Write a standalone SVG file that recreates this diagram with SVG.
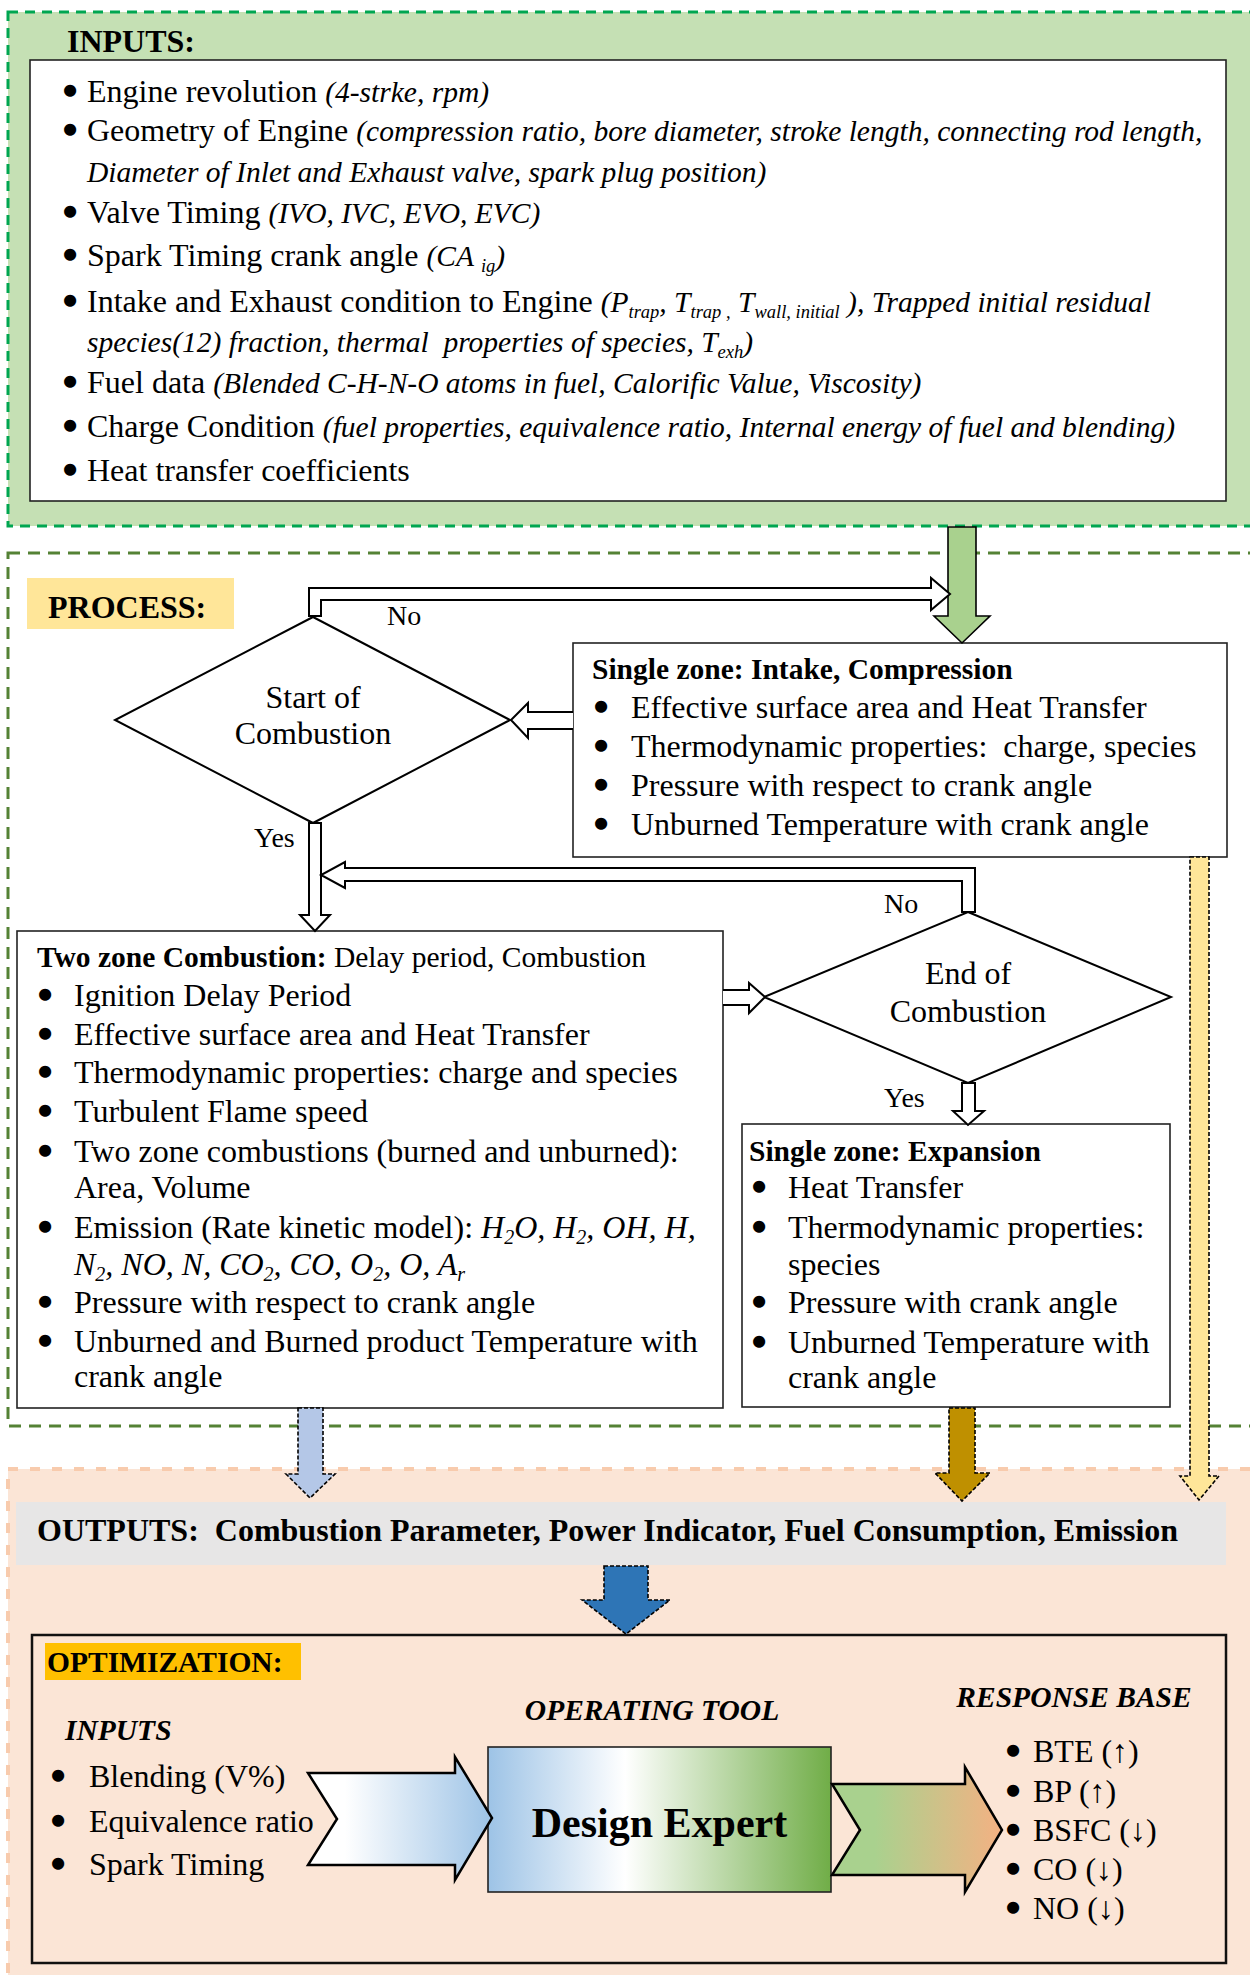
<svg xmlns="http://www.w3.org/2000/svg" width="1250" height="1975" viewBox="0 0 1250 1975">
<style>
text{font-family:"Liberation Serif","Times New Roman",serif;font-size:32px;fill:#000}
.b{font-weight:bold}
.i{font-style:italic}
.ii{font-style:italic;font-size:29.5px}
.h{font-size:29.5px;font-weight:bold}
.lab{font-size:28px}
.sub{font-size:20px}
.sub2{font-size:18.5px}
.bl{text-anchor:middle;stroke:#000;stroke-width:4.5;stroke-linejoin:round}
.box{fill:#fff;stroke:#222;stroke-width:1.6}
.dia{fill:#fff;stroke:#000;stroke-width:2}
.hol{fill:#fff;stroke:#000;stroke-width:2;stroke-linejoin:miter}
.dash{stroke:#000;stroke-width:1.6;stroke-dasharray:4 2}
</style>
<defs>
<linearGradient id="gL" x1="0" y1="0" x2="1" y2="0"><stop offset="0.2" stop-color="#fff"/><stop offset="1" stop-color="#9DC3E6"/></linearGradient>
<linearGradient id="gD" x1="0" y1="0" x2="1" y2="0"><stop offset="0" stop-color="#9DC3E6"/><stop offset="0.4" stop-color="#fff"/><stop offset="1" stop-color="#70AD47"/></linearGradient>
<linearGradient id="gR" x1="0" y1="0" x2="1" y2="0"><stop offset="0.25" stop-color="#A9D18E"/><stop offset="1" stop-color="#F4B183"/></linearGradient>
</defs>

<!-- panels -->
<g id="inputs-panel">
<rect x="8" y="12" width="1250" height="514" fill="#C5E0B4" stroke="#00A651" stroke-width="3" stroke-dasharray="10 7"/>
<text x="67" y="52" class="b">INPUTS:</text>
<rect x="30" y="60" width="1196" height="441" class="box"/>
<text x="70" y="102" class="bl">•</text><text x="87" y="102">Engine revolution <tspan class="ii">(4-strke, rpm)</tspan></text>
<text x="70" y="141" class="bl">•</text><text x="87" y="141">Geometry of Engine <tspan class="ii">(compression ratio, bore diameter, stroke length, connecting rod length,</tspan></text>
<text x="87" y="182" class="ii">Diameter of Inlet and Exhaust valve, spark plug position)</text>
<text x="70" y="223" class="bl">•</text><text x="87" y="223">Valve Timing <tspan class="ii">(IVO, IVC, EVO, EVC)</tspan></text>
<text x="70" y="266" class="bl">•</text><text x="87" y="266">Spark Timing crank angle <tspan class="ii">(CA <tspan class="sub2" dy="6">ig</tspan><tspan dy="-6">)</tspan></tspan></text>
<text x="70" y="312" class="bl">•</text><text x="87" y="312" xml:space="preserve">Intake and Exhaust condition to Engine <tspan class="ii">(P<tspan class="sub2" dy="6">trap</tspan><tspan dy="-6">, T</tspan><tspan class="sub2" dy="6">trap ,</tspan><tspan dy="-6"> T</tspan><tspan class="sub2" dy="6">wall, initial</tspan><tspan dy="-6"> ), Trapped initial residual</tspan></tspan></text>
<text x="87" y="352" class="ii" xml:space="preserve">species(12) fraction, thermal  properties of species, T<tspan class="sub2" dy="6">exh</tspan><tspan dy="-6">)</tspan></text>
<text x="70" y="393" class="bl">•</text><text x="87" y="393">Fuel data <tspan class="ii">(Blended C-H-N-O atoms in fuel, Calorific Value, Viscosity)</tspan></text>
<text x="70" y="437" class="bl">•</text><text x="87" y="437">Charge Condition <tspan class="ii">(fuel properties, equivalence ratio, Internal energy of fuel and blending)</tspan></text>
<text x="70" y="481" class="bl">•</text><text x="87" y="481">Heat transfer coefficients</text>
</g>

<g id="process-panel">
<rect x="8" y="553" width="1250" height="873" fill="none" stroke="#548235" stroke-width="3" stroke-dasharray="12 8"/>
<rect x="27" y="578" width="207" height="51" fill="#FFE699"/>
<text x="48" y="618" class="b">PROCESS:</text>
</g>

<g id="outputs-panel">
<rect x="8" y="1469" width="1250" height="520" fill="#FBE5D6" stroke="#F8CBAD" stroke-width="4" stroke-dasharray="10 12"/>
</g>

<!-- nodes -->
<g id="start-of-combustion">
<polygon points="313,617 510,720 313,823 115,720" class="dia"/>
<text x="313" y="708" text-anchor="middle">Start of</text>
<text x="313" y="744" text-anchor="middle">Combustion</text>
</g>

<g id="single-zone-intake">
<rect x="573" y="643" width="654" height="214" class="box"/>
<text x="592" y="679" class="h">Single zone: Intake, Compression</text>
<text x="601" y="718" class="bl">•</text><text x="631" y="718">Effective surface area and Heat Transfer</text>
<text x="601" y="757" class="bl">•</text><text x="631" y="757" xml:space="preserve">Thermodynamic properties:  charge, species</text>
<text x="601" y="796" class="bl">•</text><text x="631" y="796">Pressure with respect to crank angle</text>
<text x="601" y="835" class="bl">•</text><text x="631" y="835">Unburned Temperature with crank angle</text>
</g>

<g id="two-zone-combustion">
<rect x="17" y="931" width="706" height="477" class="box"/>
<text x="37" y="967" class="h">Two zone Combustion:<tspan font-weight="normal"> Delay period, Combustion</tspan></text>
<text x="45" y="1006" class="bl">•</text><text x="74" y="1006">Ignition Delay Period</text>
<text x="45" y="1045" class="bl">•</text><text x="74" y="1045">Effective surface area and Heat Transfer</text>
<text x="45" y="1083" class="bl">•</text><text x="74" y="1083">Thermodynamic properties: charge and species</text>
<text x="45" y="1122" class="bl">•</text><text x="74" y="1122">Turbulent Flame speed</text>
<text x="45" y="1162" class="bl">•</text><text x="74" y="1162">Two zone combustions (burned and unburned):</text>
<text x="74" y="1198">Area, Volume</text>
<text x="45" y="1238" class="bl">•</text><text x="74" y="1238">Emission (Rate kinetic model): <tspan class="i">H<tspan class="sub" dy="6">2</tspan><tspan dy="-6">O, H</tspan><tspan class="sub" dy="6">2</tspan><tspan dy="-6">, OH, H,</tspan></tspan></text>
<text x="74" y="1275" class="i">N<tspan class="sub" dy="6">2</tspan><tspan dy="-6">, NO, N, CO</tspan><tspan class="sub" dy="6">2</tspan><tspan dy="-6">, CO, O</tspan><tspan class="sub" dy="6">2</tspan><tspan dy="-6">, O, A</tspan><tspan class="sub" dy="6">r</tspan></text>
<text x="45" y="1313" class="bl">•</text><text x="74" y="1313">Pressure with respect to crank angle</text>
<text x="45" y="1352" class="bl">•</text><text x="74" y="1352">Unburned and Burned product Temperature with</text>
<text x="74" y="1387">crank angle</text>
</g>

<g id="end-of-combustion">
<polygon points="968,912 1171,997 968,1083 764,997" class="dia"/>
<text x="968" y="984" text-anchor="middle">End of</text>
<text x="968" y="1022" text-anchor="middle">Combustion</text>
</g>

<g id="single-zone-expansion">
<rect x="742" y="1124" width="428" height="283" class="box"/>
<text x="749" y="1161" class="h">Single zone: Expansion</text>
<text x="759" y="1198" class="bl">•</text><text x="788" y="1198">Heat Transfer</text>
<text x="759" y="1238" class="bl">•</text><text x="788" y="1238">Thermodynamic properties:</text>
<text x="788" y="1275">species</text>
<text x="759" y="1313" class="bl">•</text><text x="788" y="1313">Pressure with crank angle</text>
<text x="759" y="1353" class="bl">•</text><text x="788" y="1353">Unburned Temperature with</text>
<text x="788" y="1388">crank angle</text>
</g>

<g id="outputs">
<rect x="16" y="1502" width="1210" height="63" fill="#E7E6E6"/>
<text x="37" y="1541" class="b" xml:space="preserve">OUTPUTS:  Combustion Parameter, Power Indicator, Fuel Consumption, Emission</text>
</g>

<g id="optimization">
<rect x="32" y="1635" width="1194" height="328" fill="none" stroke="#111" stroke-width="2.5"/>
<rect x="45" y="1643" width="256" height="37" fill="#FFC000"/>
<text x="47" y="1672" class="h">OPTIMIZATION:</text>
</g>

<g id="opt-inputs">
<text x="65" y="1740" class="h i">INPUTS</text>
<text x="58" y="1787" class="bl">•</text><text x="89" y="1787">Blending (V%)</text>
<text x="58" y="1832" class="bl">•</text><text x="89" y="1832">Equivalence ratio</text>
<text x="58" y="1875" class="bl">•</text><text x="89" y="1875">Spark Timing</text>
</g>

<g id="design-expert">
<text x="652" y="1720" class="h i" text-anchor="middle">OPERATING TOOL</text>
<rect x="488" y="1747" width="343" height="145" fill="url(#gD)" stroke="#222" stroke-width="1.6"/>
<text x="659.5" y="1837" class="b" style="font-size:42px" text-anchor="middle">Design Expert</text>
</g>

<g id="response-base">
<text x="1074" y="1707" class="h i" text-anchor="middle">RESPONSE BASE</text>
<text x="1013" y="1762" class="bl">•</text><text x="1033" y="1762">BTE (↑)</text>
<text x="1013" y="1802" class="bl">•</text><text x="1033" y="1802">BP (↑)</text>
<text x="1013" y="1841" class="bl">•</text><text x="1033" y="1841">BSFC (↓)</text>
<text x="1013" y="1880" class="bl">•</text><text x="1033" y="1880">CO (↓)</text>
<text x="1013" y="1919" class="bl">•</text><text x="1033" y="1919">NO (↓)</text>
</g>

<!-- connectors -->
<g id="connectors">
<path d="M948,527 L976,527 L976,616 L990,616 L962,643 L934,616 L948,616 Z" fill="#A9D18E" stroke="#000" stroke-width="1.6"/>
<path d="M309,616 L309,588 L931,588 L931,578 L950,594 L931,610 L931,600 L321,600 L321,616 Z" class="hol"/>
<text x="387" y="625" class="lab">No</text>
<path d="M573,712 L528,712 L528,703 L511,720 L528,738 L528,729 L573,729" class="hol"/>
<path d="M309,823 L309,915 L300,915 L315,931 L330,915 L321,915 L321,823 Z" class="hol"/>
<text x="254" y="847" class="lab">Yes</text>
<path d="M962,912 L962,881 L345,881 L345,888 L321,875 L345,862 L345,868 L975,868 L975,912 Z" class="hol"/>
<text x="884" y="913" class="lab">No</text>
<path d="M723,990 L749,990 L749,983 L765,997 L749,1013 L749,1005 L723,1005" class="hol"/>
<path d="M962,1083 L962,1111 L953,1111 L968,1125 L984,1111 L975,1111 L975,1083 Z" class="hol"/>
<text x="884" y="1107" class="lab">Yes</text>
<path d="M298,1408 L323,1408 L323,1474 L335,1474 L310,1498 L286,1474 L298,1474 Z" fill="#B4C7E7" class="dash"/>
<path d="M949,1408 L975,1408 L975,1473 L990,1473 L962,1501 L935,1473 L949,1473 Z" fill="#BF9000" class="dash"/>
<path d="M1190,857 L1209,857 L1209,1476 L1219,1476 L1199,1500 L1180,1476 L1190,1476 Z" fill="#FFE699" class="dash"/>
<path d="M604,1566 L648,1566 L648,1600 L670,1600 L626,1634 L582,1600 L604,1600 Z" fill="#2E75B6" class="dash"/>
<path d="M308,1773 L455,1773 L455,1757 L492,1818 L455,1880 L455,1865 L308,1865 L337,1819 Z" fill="url(#gL)" stroke="#000" stroke-width="2.5"/>
<path d="M832,1784 L965,1784 L965,1767 L1002,1830 L965,1892 L965,1875 L832,1875 L860,1830 Z" fill="url(#gR)" stroke="#000" stroke-width="2.5"/>
</g>
</svg>
